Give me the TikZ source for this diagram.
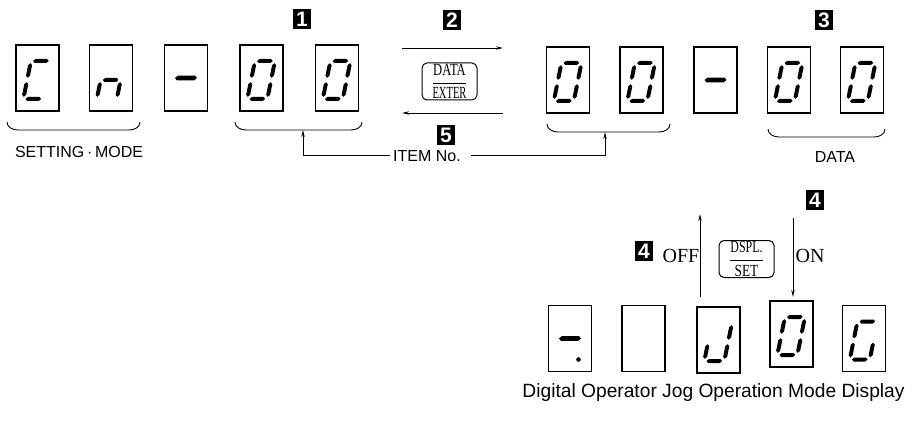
\documentclass[tikz,border=0pt]{standalone}
\usepackage{fontspec}
\setmainfont{Liberation Serif}
\newfontfamily\lab{Liberation Sans}
\usetikzlibrary{arrows.meta}
\def\SW{10}\def\SH{19}\def\SG{2.2}\def\ST{2.0}\def\SD{2}
\newcommand\hseg[3]{\fill ({#1},{#3}) -- ({#1+\ST},{#3-\ST}) -- ({#2-\ST},{#3-\ST}) -- ({#2},{#3}) -- ({#2-\ST},{#3+\ST}) -- ({#1+\ST},{#3+\ST}) -- cycle;}
\newcommand\vseg[3]{\fill ({#1},{#2}) -- ({#1+\ST},{#2+\ST}) -- ({#1+\ST},{#3-\ST}) -- ({#1},{#3}) -- ({#1-\ST},{#3-\ST}) -- ({#1-\ST},{#2+\ST}) -- cycle;}
\expandafter\def\csname SEGa\endcsname{\hseg{-\SW+\SG}{\SW-\SG}{-\SH+\SD}}
\expandafter\def\csname SEGb\endcsname{\vseg{\SW}{-\SH+\SG+\SD}{-\SG+\SD}}
\expandafter\def\csname SEGc\endcsname{\vseg{\SW}{\SG+\SD}{\SH-\SG+\SD}}
\expandafter\def\csname SEGd\endcsname{\hseg{-\SW+\SG}{\SW-\SG}{\SH+\SD}}
\expandafter\def\csname SEGe\endcsname{\vseg{-\SW}{\SG+\SD}{\SH-\SG+\SD}}
\expandafter\def\csname SEGf\endcsname{\vseg{-\SW}{-\SH+\SG+\SD}{-\SG+\SD}}
\expandafter\def\csname SEGg\endcsname{\hseg{-\SW+\SG}{\SW-\SG}{\SD}}
\expandafter\def\csname SEGm\endcsname{{\def\ST{2.3}\hseg{-11}{11}{0}}}
\expandafter\def\csname SEGp\endcsname{\fill[xslant=-0.2] (8.5,{\SH+\SD}) circle (2.3);}
\newcommand\dispbox[4]{%
  \node[dbox] (#1) at (#2,#3) {};
  \begin{scope}[shift={(#1.center)}, xslant=0.2]
    \foreach \s in {#4} {\csname SEG\s\endcsname}
  \end{scope}}
\newcommand\ubrace[3]{\draw[bracel] (#1,#3-8) to[out=-90,in=180] (#1+11,#3) -- (#2-11,#3) to[out=0,in=-90] (#2,#3-8);}
\tikzset{
  dbox/.style={draw, line width=1.1pt, minimum width=43pt, minimum height=66pt, inner sep=0pt},
  badge/.style={fill=black, text=white, font=\lab\bfseries\fontsize{21}{21}\selectfont, minimum width=18pt, minimum height=20pt, inner sep=0pt},
  lbl/.style={font=\lab\fontsize{16}{18}\selectfont, inner sep=0pt, anchor=base},
  serl/.style={font=\fontsize{20}{22}\selectfont, inner sep=0pt, anchor=base},
  btn/.style={draw, line width=1pt, rounded corners=5pt, minimum width=55pt, minimum height=37pt, inner sep=0pt, align=center, font=\fontsize{17}{17}\selectfont},
  conn/.style={line width=0.9pt},
  tip/.style={-{Stealth[length=7pt,width=3.4pt]}},
  bracel/.style={line width=0.9pt},
}
\begin{document}
\begin{tikzpicture}[x=1pt,y=-1pt]
\useasboundingbox (0,0) rectangle (912,422);
% top left group
\dispbox{c1}{37.5}{78}{a,f,e,d}
\dispbox{c2}{111}{78}{g,e,c}
\dispbox{c3}{186}{78}{m}
\dispbox{c4}{261.5}{78}{a,b,c,d,e,f}
\dispbox{c5}{337}{78}{a,b,c,d,e,f}
% top right group
\dispbox{r1}{568}{80}{a,b,c,d,e,f}
\dispbox{r2}{641.5}{80}{a,b,c,d,e,f}
\dispbox{r3}{715.5}{80}{m}
\dispbox{r4}{789}{80}{a,b,c,d,e,f}
\dispbox{r5}{862}{80}{a,b,c,d,e,f}
% braces
\ubrace{7}{140}{130}
\ubrace{235}{362}{130}
\ubrace{547}{670}{132}
\ubrace{768}{885}{137}
% labels
\node[lbl] (setm) at (79,158) {SETTING\,·\,MODE};
\node[lbl] (item) at (427,162) {ITEM No.};
\node[lbl] (data) at (835,163) {DATA};
% markers
\node[badge] (m1) at (302,19) {1};
\node[badge] (m2) at (452,20) {2};
\node[badge] (m3) at (824,20) {3};
\node[badge] (m5) at (446,135) {5};
\node[badge] (m4a) at (815,200) {4};
\node[badge] (m4b) at (644,251) {4};
% DATA/EXTER key and arrows
\node[btn] (dataenter) at (449.5,81.5) {$\displaystyle\frac{\mbox{\scalebox{0.74}[1]{DATA}}}{\mbox{\scalebox{0.62}[1]{EXTER}}}$};
\coordinate (a1s) at (402,48); \coordinate (a1e) at (503,48);
\coordinate (a2s) at (503,113); \coordinate (a2e) at (402,113);
\draw[conn,tip] (a1s) -- (a1e);
\draw[conn,tip] (a2s) -- (a2e);
% ITEM No. connectors
\coordinate (lb) at (303,130);
\coordinate (rb) at (605,132);
\draw[conn,tip] ([xshift=-3pt,yshift=1pt]item.west) -| (lb);
\draw[conn,tip] ([xshift=10pt,yshift=1pt]item.east) -| (rb);
% DSPL/SET part
\node[serl] (off) at (681,262) {OFF};
\node[serl] (on) at (810,262) {ON};
\node[btn] (dsplset) at (746.5,259) {$\displaystyle\frac{\mbox{\scalebox{0.7}[1]{DSPL.}}}{\mbox{\scalebox{0.78}[1]{SET}}}$};
\coordinate (u1) at (700,297); \coordinate (u2) at (700,214);
\coordinate (d1) at (793,218); \coordinate (d2) at (793,297);
\draw[conn,tip] (u1) -- (u2);
\draw[conn,tip] (d1) -- (d2);
% bottom row
\dispbox{b1}{570}{338.5}{m,p}
\dispbox{b2}{643.5}{338.5}{}
\dispbox{b3}{718.5}{340}{b,c,d,e}
\dispbox{b4}{791.5}{334}{a,b,c,d,e,f}
\dispbox{b5}{864}{338.5}{a,f,e,d,c}
\node[lbl,font=\lab\fontsize{19.2}{22}\selectfont] (cap) at (713.5,397) {Digital Operator Jog Operation Mode Display};
\end{tikzpicture}
\end{document}
